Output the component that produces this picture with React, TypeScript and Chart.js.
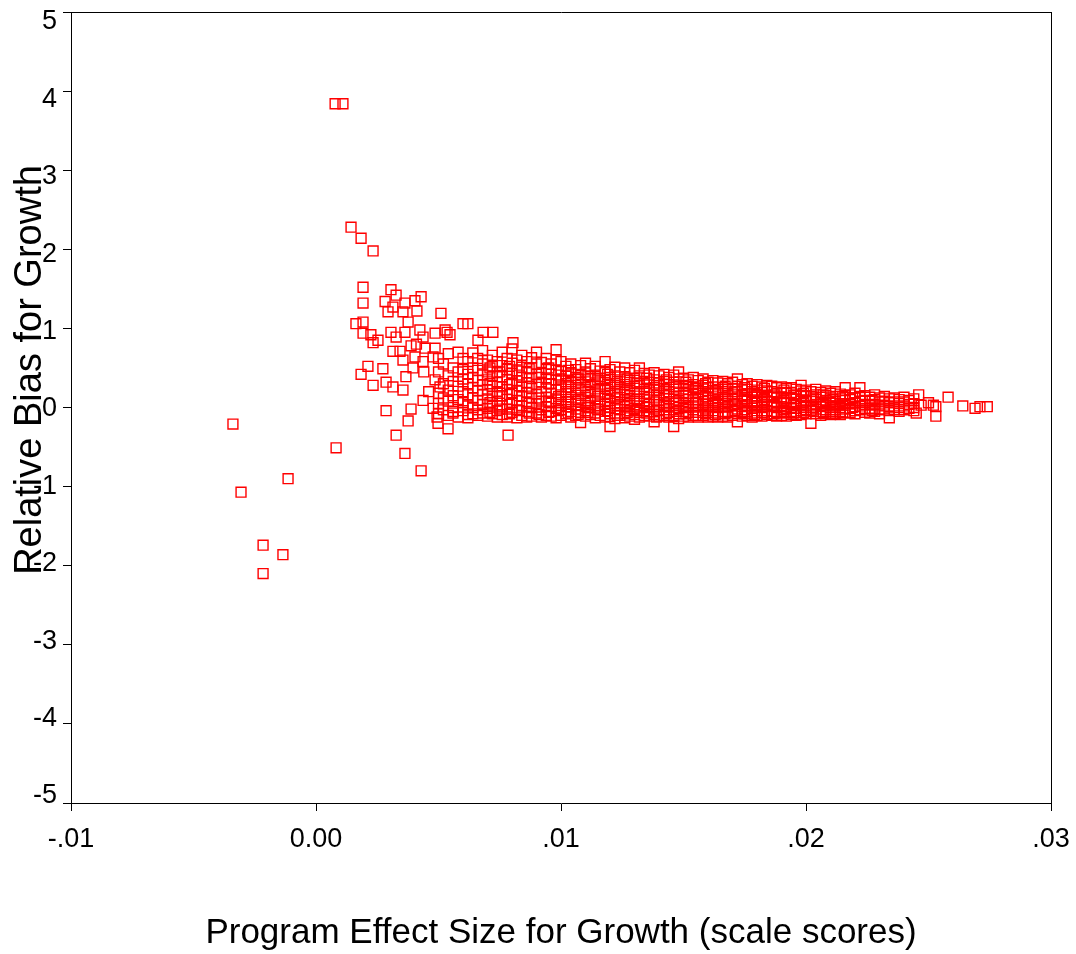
import React, { useEffect, useRef } from 'react';
import { Chart, registerables } from 'chart.js';

Chart.register(...registerables);

const X_TITLE = 'Program Effect Size for Growth (scale scores)';
const Y_TITLE = 'Relative Bias for Growth';

const X_TICKS = [-0.01, 0, 0.01, 0.02, 0.03];
const X_TICK_LABELS = ['-.01', '0.00', '.01', '.02', '.03'];
const Y_TICKS = [-5, -4, -3, -2, -1, 0, 1, 2, 3, 4, 5];
const Y_TICK_LABELS = ['-5', '-4', '-3', '-2', '-1', '0', '1', '2', '3', '4', '5'];

// isolated points far from the main cloud
const outliers: [number, number][] = [
  [0.00078, 3.84], [0.0011, 3.84], [0.00143, 2.28], [0.00184, 2.14], [0.00233, 1.98],
  [-0.00339, -0.21], [-0.00306, -1.07], [-0.00114, -0.9], [0.00082, -0.51],
  [-0.00216, -1.74], [-0.00135, -1.86], [-0.00216, -2.1],
];

// scattered points on the left of the cloud
const scatter: [number, number][] = [
  [0.00192, 1.52], [0.00306, 1.49], [0.00327, 1.42], [0.00282, 1.34], [0.00314, 1.27],
  [0.00363, 1.32], [0.00404, 1.35], [0.00429, 1.4], [0.00192, 1.32], [0.00294, 1.21],
  [0.00355, 1.21], [0.00412, 1.22], [0.0051, 1.19], [0.00376, 1.08], [0.00163, 1.06],
  [0.00192, 1.08], [0.00192, 0.94], [0.00224, 0.92], [0.00233, 0.82], [0.00253, 0.85],
  [0.00306, 0.95], [0.00327, 0.89], [0.00363, 0.95], [0.00424, 0.98], [0.00437, 0.89],
  [0.00486, 0.94], [0.00527, 0.98], [0.00547, 0.92], [0.006, 1.06], [0.0062, 1.06],
  [0.00682, 0.95], [0.00722, 0.95], [0.00661, 0.85], [0.00804, 0.82], [0.00314, 0.71],
  [0.00343, 0.71], [0.00388, 0.78], [0.00445, 0.75], [0.00486, 0.75], [0.00355, 0.6],
  [0.00404, 0.64], [0.00437, 0.58], [0.00478, 0.64], [0.00396, 0.5], [0.00212, 0.52],
  [0.00273, 0.49], [0.00184, 0.42], [0.00367, 0.39], [0.00286, 0.32], [0.00233, 0.28],
  [0.00314, 0.26], [0.00355, 0.22], [0.00486, 0.35], [0.00506, 0.26], [0.00437, 0.09],
  [0.00388, -0.02], [0.00286, -0.04], [0.00478, -0.01], [0.00376, -0.17], [0.00494, -0.12],
  [0.00498, -0.2], [0.00539, -0.27], [0.00559, -0.07], [0.0062, -0.13], [0.00784, -0.35],
  [0.00327, -0.35], [0.00363, -0.58], [0.00429, -0.8], [0.0058, 0.7], [0.0064, 0.69],
  [0.0098, 0.73], [0.00535, 0.95], [0.0041, 0.8], [0.0044, 0.45], [0.0046, 0.2],
];

// dense band, by column: [x, y values]
const bandA: [number, number[]][] = [
  [0.005, [0.62, 0.45, 0.18, 0.05, -0.08]],
  [0.0052, [0.55, 0.3, 0.12, -0.03]],
  [0.0054, [0.68, 0.4, 0.22, 0.08, -0.1]],
  [0.0056, [0.5, 0.33, 0.15, 0.0, -0.05]],
  [0.0058, [0.45, 0.27, 0.1, -0.12]],
  [0.006, [0.62, 0.48, 0.36, 0.2, 0.06, -0.04]],
  [0.0062, [0.58, 0.42, 0.3, 0.16, 0.02, -0.09]],
  [0.0064, [0.5, 0.38, 0.25, 0.12, 0.0, -0.08]],
  [0.0066, [0.62, 0.47, 0.34, 0.21, 0.09, -0.03, -0.1]],
  [0.0068, [0.72, 0.55, 0.41, 0.29, 0.16, 0.04, -0.07]],
  [0.007, [0.6, 0.45, 0.35, 0.22, 0.11, -0.01, -0.11]],
  [0.0072, [0.66, 0.52, 0.4, 0.27, 0.14, 0.03, -0.08]],
  [0.0074, [0.58, 0.44, 0.32, 0.2, 0.08, -0.04, -0.12]],
  [0.0076, [0.7, 0.53, 0.39, 0.26, 0.15, 0.02, -0.09]],
  [0.0078, [0.62, 0.48, 0.35, 0.23, 0.1, -0.02, -0.12]],
  [0.008, [0.74, 0.56, 0.43, 0.31, 0.18, 0.06, -0.06]],
  [0.0082, [0.6, 0.46, 0.34, 0.21, 0.09, -0.03, -0.13]],
  [0.0084, [0.66, 0.51, 0.38, 0.26, 0.14, 0.02, -0.1]],
  [0.0086, [0.58, 0.44, 0.31, 0.19, 0.07, -0.05, -0.12]],
  [0.0088, [0.63, 0.5, 0.37, 0.24, 0.12, 0.0, -0.11]],
  [0.009, [0.7, 0.55, 0.42, 0.29, 0.17, 0.05, -0.07]],
  [0.0092, [0.57, 0.43, 0.32, 0.2, 0.08, -0.03, -0.12]],
  [0.0094, [0.62, 0.48, 0.36, 0.25, 0.13, 0.01, -0.1]],
  [0.0096, [0.55, 0.42, 0.3, 0.18, 0.06, -0.05, -0.11]],
  [0.0098, [0.6, 0.47, 0.35, 0.22, 0.11, -0.01, -0.13]],
];

const bandB: [number, number[]][] = [
  [0.01, [0.58, 0.46, 0.36, 0.26, 0.16, 0.06, -0.03, -0.1]],
  [0.0102, [0.52, 0.4, 0.3, 0.2, 0.1, 0.01, -0.08]],
  [0.0104, [0.55, 0.44, 0.33, 0.23, 0.13, 0.04, -0.05, -0.12]],
  [0.0106, [0.48, 0.38, 0.28, 0.18, 0.08, -0.02, -0.1]],
  [0.0108, [0.53, 0.42, 0.32, 0.22, 0.12, 0.03, -0.06, -0.19]],
  [0.011, [0.56, 0.45, 0.35, 0.25, 0.15, 0.05, -0.04, -0.11]],
  [0.0112, [0.49, 0.39, 0.29, 0.19, 0.09, 0.0, -0.09]],
  [0.0114, [0.52, 0.41, 0.31, 0.21, 0.11, 0.02, -0.07, -0.13]],
  [0.0116, [0.46, 0.37, 0.27, 0.17, 0.07, -0.02, -0.1]],
  [0.0118, [0.58, 0.44, 0.34, 0.24, 0.14, 0.04, -0.05, -0.12]],
  [0.012, [0.48, 0.38, 0.28, 0.18, 0.09, 0.0, -0.08, -0.24]],
  [0.0122, [0.51, 0.4, 0.3, 0.2, 0.11, 0.02, -0.07, -0.14]],
  [0.0124, [0.45, 0.35, 0.25, 0.16, 0.06, -0.03, -0.1]],
  [0.0126, [0.5, 0.39, 0.29, 0.19, 0.1, 0.01, -0.08, -0.13]],
  [0.0128, [0.44, 0.34, 0.24, 0.15, 0.05, -0.04, -0.11]],
  [0.013, [0.47, 0.37, 0.27, 0.18, 0.08, -0.01, -0.09, -0.15]],
  [0.0132, [0.5, 0.4, 0.3, 0.2, 0.11, 0.02, -0.06, -0.12]],
  [0.0134, [0.43, 0.33, 0.23, 0.14, 0.05, -0.04, -0.1]],
  [0.0136, [0.41, 0.32, 0.22, 0.13, 0.04, -0.05, -0.11]],
  [0.0138, [0.44, 0.35, 0.25, 0.16, 0.07, -0.02, -0.09, -0.18]],
  [0.014, [0.4, 0.31, 0.22, 0.13, 0.04, -0.04, -0.11]],
  [0.0142, [0.42, 0.33, 0.24, 0.15, 0.06, -0.03, -0.1]],
  [0.0144, [0.38, 0.29, 0.2, 0.11, 0.02, -0.06, -0.12]],
  [0.0146, [0.41, 0.32, 0.23, 0.14, 0.05, -0.03, -0.1, -0.24]],
  [0.0148, [0.45, 0.36, 0.27, 0.18, 0.09, 0.0, -0.08, -0.14]],
];

const bandC: [number, number[]][] = [
  [0.015, [0.37, 0.28, 0.19, 0.11, 0.03, -0.05, -0.11]],
  [0.0152, [0.35, 0.27, 0.18, 0.1, 0.02, -0.06, -0.12]],
  [0.0154, [0.38, 0.29, 0.21, 0.13, 0.05, -0.03, -0.1]],
  [0.0156, [0.34, 0.26, 0.18, 0.1, 0.02, -0.06, -0.12]],
  [0.0158, [0.36, 0.28, 0.2, 0.12, 0.04, -0.04, -0.1]],
  [0.016, [0.32, 0.25, 0.17, 0.09, 0.01, -0.06, -0.12]],
  [0.0162, [0.34, 0.26, 0.18, 0.11, 0.03, -0.04, -0.11]],
  [0.0164, [0.31, 0.23, 0.16, 0.08, 0.0, -0.07, -0.12]],
  [0.0166, [0.33, 0.25, 0.18, 0.1, 0.03, -0.05, -0.11]],
  [0.0168, [0.3, 0.23, 0.15, 0.08, 0.01, -0.06, -0.12]],
  [0.017, [0.32, 0.24, 0.17, 0.1, 0.02, -0.05, -0.1]],
  [0.0172, [0.36, 0.27, 0.2, 0.12, 0.05, -0.02, -0.08, -0.18]],
  [0.0174, [0.29, 0.22, 0.15, 0.08, 0.01, -0.06, -0.11]],
  [0.0176, [0.3, 0.23, 0.16, 0.09, 0.02, -0.05, -0.1]],
  [0.0178, [0.27, 0.2, 0.13, 0.06, -0.01, -0.07, -0.12]],
  [0.018, [0.29, 0.22, 0.15, 0.08, 0.02, -0.04, -0.1]],
  [0.0182, [0.26, 0.19, 0.13, 0.06, 0.0, -0.06, -0.11]],
  [0.0184, [0.28, 0.21, 0.14, 0.08, 0.02, -0.04, -0.09]],
  [0.0186, [0.27, 0.2, 0.13, 0.07, 0.01, -0.05, -0.1]],
  [0.0188, [0.25, 0.18, 0.12, 0.06, 0.0, -0.06, -0.11]],
  [0.019, [0.26, 0.19, 0.13, 0.07, 0.01, -0.05, -0.1]],
  [0.0192, [0.24, 0.18, 0.11, 0.05, -0.01, -0.06, -0.11]],
  [0.0194, [0.25, 0.19, 0.12, 0.06, 0.0, -0.05, -0.09]],
  [0.0196, [0.23, 0.17, 0.11, 0.05, -0.01, -0.06, -0.1]],
  [0.0198, [0.28, 0.21, 0.14, 0.08, 0.02, -0.04, -0.09]],
];

const bandD: [number, number[]][] = [
  [0.02, [0.22, 0.15, 0.09, 0.03, -0.03, -0.08]],
  [0.0202, [0.2, 0.14, 0.08, 0.02, -0.04, -0.2]],
  [0.0204, [0.23, 0.16, 0.1, 0.04, -0.02, -0.08]],
  [0.0206, [0.19, 0.13, 0.07, 0.01, -0.05, -0.1]],
  [0.0208, [0.21, 0.15, 0.09, 0.03, -0.03, -0.08]],
  [0.021, [0.18, 0.12, 0.06, 0.0, -0.05, -0.09]],
  [0.0212, [0.2, 0.14, 0.08, 0.02, -0.03, -0.08]],
  [0.0214, [0.17, 0.11, 0.05, 0.0, -0.05, -0.09]],
  [0.0216, [0.25, 0.15, 0.09, 0.03, -0.02, -0.07]],
  [0.0218, [0.16, 0.1, 0.05, -0.01, -0.06]],
  [0.022, [0.18, 0.12, 0.06, 0.01, -0.04, -0.08]],
  [0.0222, [0.25, 0.14, 0.08, 0.02, -0.03]],
  [0.0224, [0.15, 0.09, 0.04, -0.01, -0.06]],
  [0.0226, [0.13, 0.08, 0.03, -0.02, -0.07]],
  [0.0228, [0.16, 0.1, 0.04, -0.01, -0.05]],
  [0.023, [0.12, 0.07, 0.02, -0.03, -0.08]],
  [0.0232, [0.14, 0.08, 0.03, -0.02]],
  [0.0234, [0.11, 0.06, 0.01, -0.04, -0.13]],
  [0.0236, [0.12, 0.07, 0.02, -0.03]],
  [0.0238, [0.1, 0.05, 0.0, -0.05]],
  [0.024, [0.13, 0.07, 0.02, -0.03]],
  [0.0242, [0.09, 0.04, -0.01]],
  [0.0244, [0.11, 0.05, 0.0, -0.04]],
];

// extra points filling the densest part of the band
const bandFill: [number, number[]][] = [
  [0.0071, [0.5, 0.3, 0.06, -0.06]],
  [0.0079, [0.52, 0.29, 0.04, -0.08]],
  [0.0087, [0.49, 0.27, 0.05, -0.07]],
  [0.0095, [0.5, 0.3, 0.08, -0.06]],
  [0.0103, [0.47, 0.26, 0.07, -0.07]],
  [0.0111, [0.4, 0.2, 0.0, -0.06]],
  [0.0119, [0.42, 0.23, 0.05, -0.04]],
  [0.0127, [0.36, 0.21, 0.03, -0.06]],
  [0.0135, [0.37, 0.18, 0.0, -0.07]],
  [0.0143, [0.35, 0.17, 0.01, -0.08]],
  [0.0151, [0.32, 0.15, 0.0, -0.08]],
  [0.0159, [0.3, 0.14, -0.02, -0.08]],
  [0.0167, [0.27, 0.12, 0.05, -0.08]],
  [0.0175, [0.25, 0.11, -0.03, -0.08]],
  [0.0183, [0.24, 0.1, 0.04, -0.07]],
  [0.0191, [0.22, 0.09, -0.03, -0.07]],
  [0.0199, [0.18, 0.06, 0.0, -0.06]],
  [0.0207, [0.16, 0.05, -0.06]],
  [0.0215, [0.14, 0.03, -0.06]],
];

const bandFill2: [number, number[]][] = [
  [0.0075, [0.45, 0.18, -0.02]],
  [0.0083, [0.41, 0.15, -0.04]],
  [0.0091, [0.38, 0.12, -0.09]],
  [0.0099, [0.41, 0.14, -0.04]],
  [0.0107, [0.36, 0.1, -0.09]],
  [0.0115, [0.35, 0.14, -0.03]],
  [0.0123, [0.33, 0.13, -0.1]],
  [0.0131, [0.31, 0.1, -0.04]],
  [0.0139, [0.28, 0.09, -0.12]],
  [0.0147, [0.26, 0.07, -0.05]],
  [0.0155, [0.24, 0.06, -0.1]],
  [0.0163, [0.21, 0.06, -0.09]],
  [0.0171, [0.2, 0.04, -0.04]],
  [0.0179, [0.18, 0.08, -0.09]],
  [0.0187, [0.16, 0.03, -0.08]],
  [0.0195, [0.15, 0.04, -0.07]],
  [0.0203, [0.12, 0.0, -0.05]],
  [0.0211, [0.1, 0.02, -0.07]],
  [0.0219, [0.12, 0.0]],
  [0.0227, [0.09, -0.04]],
];

// sparse tail on the right
const tail: [number, number][] = [
  [0.0246, 0.16], [0.0245, -0.07], [0.0247, 0.03], [0.025, 0.06], [0.0252, 0.03],
  [0.0253, 0.01], [0.0253, -0.11], [0.0258, 0.13], [0.0264, 0.02], [0.0269, -0.01],
  [0.0271, 0.01], [0.0274, 0.01],
];

const Y_TITLE_X = 31;
const Y_TITLE_Y = 370;

export default function App() {
  const ref = useRef<HTMLCanvasElement>(null);

  useEffect(() => {
    document.body.style.margin = '0';
    if (!ref.current) return;
    const pairs = (arr: [number, number][]) => arr.map(([x, y]) => ({ x, y }));
    const cols = (arr: [number, number[]][]) => arr.flatMap(([x, ys]) => ys.map((y) => ({ x, y })));
    const points = [
      ...pairs(outliers),
      ...pairs(scatter),
      ...cols(bandA),
      ...cols(bandB),
      ...cols(bandC),
      ...cols(bandD),
      ...cols(bandFill),
      ...cols(bandFill2),
      ...pairs(tail),
    ];

    const yTitlePlugin = {
      id: 'yTitleDraw',
      afterDraw(chart: any) {
        const ctx = chart.ctx;
        ctx.save();
        ctx.translate(Y_TITLE_X, Y_TITLE_Y);
        ctx.rotate(-Math.PI / 2);
        ctx.font = '38px "Liberation Sans", Arial, sans-serif';
        ctx.textAlign = 'center';
        ctx.textBaseline = 'middle';
        ctx.fillStyle = '#000';
        ctx.fillText(Y_TITLE, 0, 0);
        ctx.restore();
      },
    };

    const tickFont = { family: '"Liberation Sans", Arial, sans-serif', size: 27 };
    const yLabel = (v: any) => {
      const i = Y_TICKS.indexOf(Number(v));
      return i >= 0 ? Y_TICK_LABELS[i] : '';
    };

    const chart = new Chart(ref.current, {
      type: 'scatter',
      data: {
        datasets: [
          {
            data: points,
            pointStyle: 'rect',
            pointRadius: 7,
            pointBorderWidth: 1.4,
            pointBorderColor: '#ff0000',
            pointBackgroundColor: 'rgba(0,0,0,0)',
            showLine: false,
          },
        ],
      },
      options: {
        animation: false,
        responsive: false,
        events: [],
        layout: { padding: { left: 0, top: 12, right: 25, bottom: 0 } },
        plugins: { legend: { display: false }, tooltip: { enabled: false } },
        scales: {
          x: {
            type: 'linear',
            position: 'bottom',
            min: -0.01,
            max: 0.03,
            afterBuildTicks: (s: any) => {
              s.ticks = X_TICKS.map((v) => ({ value: v }));
            },
            afterFit: (s: any) => {
              s.height = 151;
              s.paddingLeft = 0;
              s.paddingRight = 0;
            },
            ticks: {
              autoSkip: false,
              maxRotation: 0,
              padding: 12,
              color: '#000',
              font: tickFont,
              callback: (v: any) => {
                const i = X_TICKS.findIndex((t) => Math.abs(t - Number(v)) < 1e-9);
                return i >= 0 ? X_TICK_LABELS[i] : '';
              },
            },
            grid: { drawOnChartArea: false, drawTicks: true, tickLength: 8, color: '#000', lineWidth: 1 },
            border: { display: true, color: '#000', width: 1 },
            title: {
              display: true,
              text: X_TITLE,
              color: '#000',
              font: { family: '"Liberation Sans", Arial, sans-serif', size: 35 },
              padding: { top: 0, bottom: 0 },
            },
          },
          y: {
            type: 'linear',
            position: 'left',
            weight: 0,
            min: -5,
            max: 5,
            afterBuildTicks: (s: any) => {
              s.ticks = Y_TICKS.map((v) => ({ value: v }));
            },
            afterFit: (s: any) => {
              s.width = 8;
              s.paddingTop = 0;
              s.paddingBottom = 0;
            },
            ticks: { display: false },
            grid: { drawOnChartArea: false, drawTicks: true, tickLength: 8, color: '#000', lineWidth: 1 },
            border: { display: true, color: '#000', width: 1 },
          },
          // label axis: the reference places its y labels on a slightly compressed scale
          yLabels: {
            type: 'linear',
            position: 'left',
            weight: 1,
            min: -5.091,
            max: 5.129,
            afterBuildTicks: (s: any) => {
              s.ticks = Y_TICKS.map((v) => ({ value: v }));
            },
            afterFit: (s: any) => {
              s.width = 63;
              s.paddingTop = 0;
              s.paddingBottom = 0;
            },
            ticks: { autoSkip: false, padding: 6, color: '#000', font: tickFont, callback: yLabel },
            grid: { display: false, drawOnChartArea: false, drawTicks: false },
            border: { display: false },
          },
          xTop: {
            type: 'linear',
            position: 'top',
            min: -0.01,
            max: 0.03,
            afterFit: (s: any) => {
              s.height = 0;
              s.paddingLeft = 0;
              s.paddingRight = 0;
            },
            ticks: { display: false },
            grid: { display: false, drawOnChartArea: false, drawTicks: false },
            border: { display: true, color: '#000', width: 1 },
          },
          yRight: {
            type: 'linear',
            position: 'right',
            min: -5,
            max: 5,
            afterFit: (s: any) => {
              s.width = 0;
              s.paddingTop = 0;
              s.paddingBottom = 0;
            },
            ticks: { display: false },
            grid: { display: false, drawOnChartArea: false, drawTicks: false },
            border: { display: true, color: '#000', width: 1 },
          },
        },
      },
      plugins: [yTitlePlugin],
    });

    return () => chart.destroy();
  }, []);

  return (
    <div style={{ width: 1076, height: 954 }}>
      <canvas ref={ref} width={1076} height={954} style={{ display: 'block' }} />
    </div>
  );
}
